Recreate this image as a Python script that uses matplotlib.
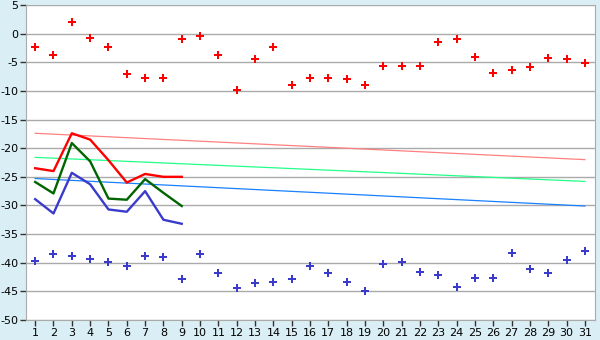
import matplotlib
matplotlib.use("Agg")
import matplotlib.pyplot as plt

plt.rcParams["axes.unicode_minus"] = False

# days on the x axis
days = list(range(1, 32))

# daily scatter series
red_points = [-2.3, -3.7, 2.1, -0.7, -2.4, -7.1, -7.7, -7.7, -1.0, -0.5,
              -3.8, -9.9, -4.4, -2.3, -8.9, -7.8, -7.7, -8.0, -8.9, -5.6,
              -5.6, -5.6, -1.4, -1.0, -4.0, -6.8, -6.3, -5.8, -4.2, -4.5, -5.2]
blue_points = [-39.7, -38.5, -38.9, -39.4, -39.9, -40.6, -38.9, -39.0, -42.9, -38.5,
               -41.8, -44.4, -43.6, -43.4, -42.9, -40.6, -41.8, -43.4, -45.0, -40.2,
               -39.9, -41.6, -42.2, -44.3, -42.7, -42.7, -38.3, -41.1, -41.8, -39.5, -38.0]

# first nine days, thick lines
line_days = list(range(1, 10))
red_line = [-23.5, -24.0, -17.4, -18.5, -22.1, -26.0, -24.5, -25.0, -25.0]
green_line = [-25.9, -27.9, -19.1, -22.3, -28.8, -29.0, -25.4, -27.8, -30.1]
blue_line = [-28.9, -31.4, -24.3, -26.3, -30.7, -31.1, -27.5, -32.5, -33.2]

# trend lines (start and end of month)
trend_days = [1, 31]
pink_trend = [-17.4, -22.0]
lime_trend = [-21.6, -25.8]
sky_trend = [-25.3, -30.1]

bg = "#daeef5"
fig = plt.figure(figsize=(6, 3.4), dpi=100, facecolor=bg)
ax = fig.add_axes([26 / 600, 20 / 340, 569 / 600, 315 / 340])
ax.set_facecolor("white")

ax.plot(trend_days, pink_trend, color="#ff8080", lw=0.9)
ax.plot(trend_days, lime_trend, color="#22ff88", lw=0.9)
ax.plot(trend_days, sky_trend, color="#1a80ff", lw=0.9)

ax.plot(line_days, red_line, color="#ff0000", lw=1.7)
ax.plot(line_days, green_line, color="#006400", lw=1.7)
ax.plot(line_days, blue_line, color="#3a3acc", lw=1.7)

ax.plot(days, red_points, ls="none", marker="P", ms=6, color="#ff0000", mew=0)
ax.plot(days, blue_points, ls="none", marker="P", ms=6, color="#3a3acc", mew=0)

ax.set_xlim(0.5, 31.55)
ax.set_ylim(-50, 5)
ax.set_xticks(days)
ax.set_yticks(range(-50, 6, 5))
ax.grid(axis="y", color="#aaaaaa", lw=1)
ax.set_axisbelow(True)

for s in ["left", "right", "bottom"]:
    ax.spines[s].set_color("#aaaaaa")
ax.spines["top"].set_visible(False)
ax.tick_params(axis="both", colors="#333333", labelcolor="black", labelsize=8,
               length=4, width=1, pad=1.5)

fig.savefig("out.png", dpi=100, facecolor=bg)
